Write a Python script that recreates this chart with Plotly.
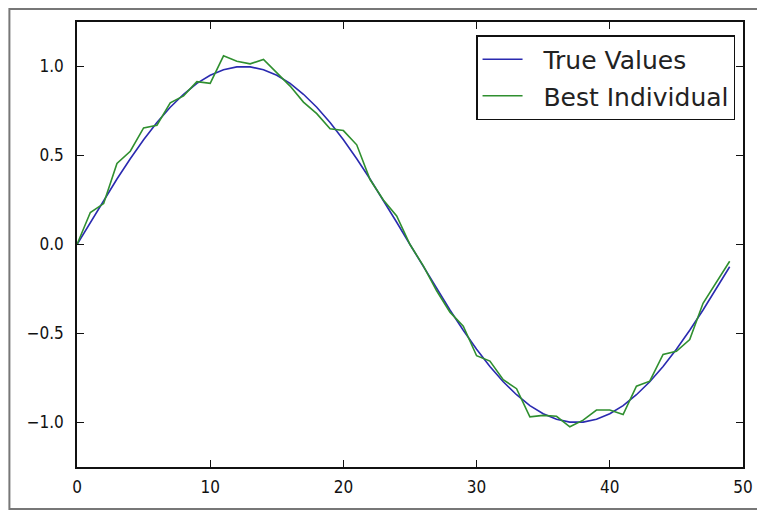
import plotly.graph_objects as go

x_values = list(range(50))

true_values = [
    0.000, 0.125, 0.249, 0.368, 0.482, 0.588, 0.685, 0.771, 0.844, 0.905,
    0.951, 0.982, 0.998, 0.998, 0.982, 0.951, 0.905, 0.844, 0.771, 0.685,
    0.588, 0.482, 0.368, 0.249, 0.125, 0.000, -0.125, -0.249, -0.368, -0.482,
    -0.588, -0.685, -0.771, -0.844, -0.905, -0.951, -0.982, -0.998, -0.998, -0.982,
    -0.951, -0.905, -0.844, -0.771, -0.685, -0.588, -0.482, -0.368, -0.249, -0.125,
]

best_individual = [
    0.000, 0.180, 0.230, 0.455, 0.524, 0.655, 0.670, 0.796, 0.835, 0.915,
    0.905, 1.060, 1.030, 1.015, 1.040, 0.965, 0.890, 0.800, 0.735, 0.650,
    0.640, 0.560, 0.365, 0.250, 0.160, 0.000, -0.120, -0.260, -0.380, -0.459,
    -0.625, -0.655, -0.760, -0.810, -0.968, -0.960, -0.965, -1.024, -0.987, -0.930,
    -0.930, -0.955, -0.796, -0.768, -0.618, -0.600, -0.534, -0.330, -0.215, -0.094,
]

series_names = ["True Values", "Best Individual"]
x_ticks = [0, 10, 20, 30, 40, 50]
y_ticks = [-1.0, -0.5, 0.0, 0.5, 1.0]

NB = "\u00a0\u00a0"

fig = go.Figure()
fig.add_trace(go.Scatter(x=x_values, y=true_values, mode="lines", name=NB + series_names[0],
                         line=dict(color="#2a2ab0", width=1.6), legendgroup="a"))
fig.add_trace(go.Scatter(x=x_values, y=best_individual, mode="lines", name=NB + series_names[1],
                         line=dict(color="#2f8f2f", width=1.6), legendgroup="b"))

axis_common = dict(showline=True, mirror="ticks", linecolor="#111", linewidth=1.6,
                   ticks="inside", ticklen=7, tickcolor="#111", tickwidth=1,
                   showgrid=False, zeroline=False,
                   tickfont=dict(family="DejaVu Sans Condensed, DejaVu Sans", size=17, color="#111"))

fig.update_xaxes(range=[0, 50], tickvals=x_ticks, ticklabelstandoff=4, **axis_common)
fig.update_yaxes(range=[-1.25, 1.25], tickvals=y_ticks, tickformat=".1f",
                 ticklabelstandoff=8, **axis_common)

# page body has an 8px margin; size the figure so it fills the rest of the window
OFF = 8
W, H = 765 - OFF, 510 - OFF
ml, mr, mt, mb = 77 - OFF, 18, 22 - OFF, 43
pw, ph = W - ml - mr, H - mt - mb

fig.update_layout(
    width=W, height=H,
    margin=dict(l=ml, r=mr, t=mt, b=mb),
    paper_bgcolor="white", plot_bgcolor="white",
    font=dict(family="DejaVu Sans", color="#111"),
    legend=dict(x=(739 - 77) / pw, y=1 - (35 - 22) / ph, xanchor="right", yanchor="top",
                bordercolor="#111", borderwidth=1.5, bgcolor="white",
                font=dict(family="DejaVu Sans", size=25, color="#222"),
                tracegroupgap=1, itemwidth=40),
    showlegend=True,
    shapes=[dict(type="rect", xref="paper", yref="paper",
                 x0=-(ml - 1) / pw, x1=1 + (mr - 1) / pw,
                 y0=-(mb - 1) / ph, y1=1 + (mt - 1) / ph,
                 line=dict(color="#777", width=2), layer="below")],
)

fig.write_html("out.html")
